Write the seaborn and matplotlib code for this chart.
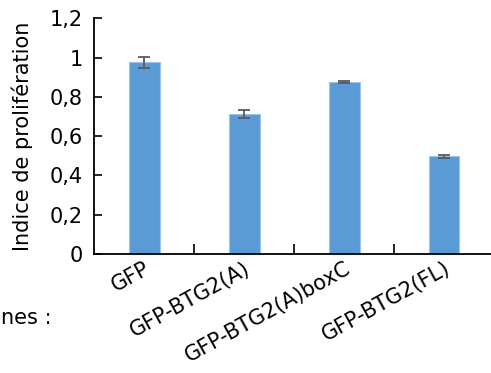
import pandas as pd
import matplotlib
matplotlib.use("Agg")
import matplotlib.pyplot as plt
import seaborn as sns
from matplotlib.ticker import FuncFormatter, FixedLocator

# Données
categories = ['GFP', 'GFP-BTG2(A)', 'GFP-BTG2(A)boxC', 'GFP-BTG2(FL)']
indice = [0.975, 0.712, 0.876, 0.497]
erreur = [0.028, 0.022, 0.003, 0.009]
yticks = [0, 0.2, 0.4, 0.6, 0.8, 1.0, 1.2]

df = pd.DataFrame({'Lignee': categories, 'Indice': indice, 'Erreur': erreur})

sns.set_theme(style="white")
plt.rcParams['font.family'] = ['DejaVu Sans']
plt.rcParams['text.color'] = 'black'
plt.rcParams['axes.labelcolor'] = 'black'
plt.rcParams['xtick.color'] = 'black'
plt.rcParams['ytick.color'] = 'black'

fs = 15

fig = plt.figure(figsize=(4.91, 3.73), dpi=100)
ax = fig.add_axes([94 / 491, 1 - 254 / 373, 397 / 491, (254 - 18.3) / 373])

sns.barplot(data=df, x='Lignee', y='Indice', color='#5B9BD5', width=0.31,
            saturation=1, edgecolor='#9DC3E6', linewidth=0.8, errorbar=None, ax=ax)
ax.errorbar(range(len(df)), df['Indice'], yerr=df['Erreur'], fmt='none',
            ecolor='#595959', elinewidth=1.3, capsize=4.3, capthick=1.3)

ax.set_xlim(-0.5, 3.47)
ax.set_ylim(0, 1.2)
ax.yaxis.set_major_locator(FixedLocator(yticks))
ax.yaxis.set_major_formatter(FuncFormatter(lambda v, p: ('%g' % round(v, 1)).replace('.', ',')))

for s in ['top', 'right']:
    ax.spines[s].set_visible(False)
for s in ['left', 'bottom']:
    ax.spines[s].set_color('black')
    ax.spines[s].set_linewidth(1.3)

ax.tick_params(axis='y', direction='in', length=6, width=1.2, color='black',
               labelsize=fs, pad=8, left=True)
ax.tick_params(axis='x', which='major', length=0, labelsize=fs, pad=3)
ax.set_xticks(range(len(categories)))
ax.set_xticklabels(categories, rotation=29, ha='right', va='top', rotation_mode='anchor')
ax.set_xticks([0.5, 1.5, 2.5], minor=True)
ax.tick_params(axis='x', which='minor', direction='in', length=7, width=1.2,
               color='black', bottom=True)

ax.set_xlabel('')
ax.set_ylabel('Indice de prolifération', fontsize=fs, labelpad=12)

fig.text(0.002, 1 - 318 / 373, 'nes :', fontsize=fs, va='center', ha='left')

fig.savefig('out.png', dpi=100)
